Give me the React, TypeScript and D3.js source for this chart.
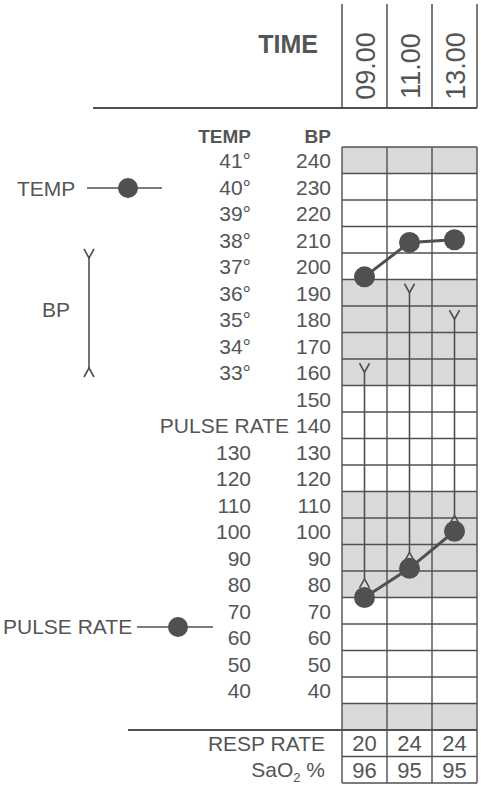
import React from 'react';
import * as d3 from 'd3';

// chart content
const times = ['09.00', '11.00', '13.00'];
const bpTicks = [240, 230, 220, 210, 200, 190, 180, 170, 160, 150, 140, 130, 120, 110, 100, 90, 80, 70, 60, 50, 40];
const tempTicks = [41, 40, 39, 38, 37, 36, 35, 34, 33];
const pulseTicks = [130, 120, 110, 100, 90, 80, 70, 60, 50, 40];
const shadedBands = [[240, 240], [190, 160], [110, 80], [30, 30]];

const tempValues = [36.6, 37.9, 38.0];
const bpSystolic = [160, 190, 180];
const bpDiastolic = [82, 92, 106];
const pulseValues = [75, 86, 100];
const respRate = [20, 24, 24];
const sao2 = [96, 95, 95];

const INK = '#505050';
const TEXT = '#555';
const SHADE = '#d9d9d9';
const FONT = '"Liberation Sans", Arial, Helvetica, sans-serif';

const y = d3.scaleLinear().domain([245, 25]).range([147, 730]);
const tempY = d3.scaleLinear().domain([41, 33]).range([y(240), y(160)]);
const x = d3.scaleBand<string>().domain(times).range([342, 477]);
const rowH = y(230) - y(240);
const cx = (t: string) => (x(t) as number) + x.bandwidth() / 2;

const respTop = y(25);
const respMid = respTop + rowH;
const respBottom = respMid + rowH;

const line = d3.line<[number, number]>().x(d => d[0]).y(d => d[1]);

function yMarker(px: number, py: number) {
  return `M${px - 5},${py - 9}L${px},${py}L${px + 5},${py - 9}`;
}
function caretMarker(px: number, py: number) {
  return `M${px - 5},${py + 9}L${px},${py}L${px + 5},${py + 9}`;
}

export default function App() {
  const [x0, x1] = x.range();
  const rowLines = d3.range(0, 23).map(i => 147 + i * rowH);
  const colLines = [...times.map(t => x(t) as number), x1];

  const tempPts: [number, number][] = times.map((t, i) => [cx(t), tempY(tempValues[i])]);
  const pulsePts: [number, number][] = times.map((t, i) => [cx(t), y(pulseValues[i])]);

  return (
    <svg width={481} height={788} style={{ position: 'absolute', left: 0, top: 0, background: '#fff' }}
      fontFamily={FONT}>
      {/* header */}
      <text x={318} y={53} textAnchor="end" fontSize={25} fontWeight="bold" fill={TEXT}>TIME</text>
      {colLines.map((cxl, i) => (
        <line key={'hv' + i} x1={cxl} x2={cxl} y1={4} y2={108} stroke={INK} strokeWidth={1.5} />
      ))}
      <line x1={93} x2={x1} y1={108} y2={108} stroke={INK} strokeWidth={2} />
      {times.map(t => (
        <text key={t} transform={`translate(${cx(t) + 10},66) rotate(-90)`} textAnchor="middle"
          fontSize={27} fill={TEXT}>{t}</text>
      ))}

      {/* shaded bands */}
      {shadedBands.map(([hi, lo], i) => (
        <rect key={'sb' + i} x={x0} width={x1 - x0} y={y(hi + 5)} height={y(lo - 5) - y(hi + 5)} fill={SHADE} />
      ))}

      {/* grid */}
      {rowLines.map((ry, i) => (
        <line key={'r' + i} x1={x0} x2={x1} y1={ry} y2={ry} stroke={INK} strokeWidth={1.4} />
      ))}
      {colLines.map((cxl, i) => (
        <line key={'c' + i} x1={cxl} x2={cxl} y1={147} y2={respBottom} stroke={INK} strokeWidth={1.4} />
      ))}
      <line x1={128} x2={x1} y1={respTop} y2={respTop} stroke={INK} strokeWidth={2.2} />
      <line x1={x0} x2={x1} y1={respMid} y2={respMid} stroke={INK} strokeWidth={1.4} />
      <line x1={x0} x2={x1} y1={respBottom} y2={respBottom} stroke={INK} strokeWidth={1.4} />

      {/* axis labels */}
      <text x={251} y={143} textAnchor="end" fontSize={19} fontWeight="bold" fill={TEXT}>TEMP</text>
      <text x={331} y={143} textAnchor="end" fontSize={19} fontWeight="bold" fill={TEXT}>BP</text>
      {bpTicks.map(v => (
        <text key={'bp' + v} x={331} y={y(v) + 8} textAnchor="end" fontSize={21} fill={TEXT}>{v}</text>
      ))}
      {tempTicks.map(v => (
        <text key={'t' + v} x={251} y={tempY(v) + 8} textAnchor="end" fontSize={21} fill={TEXT}>{v}°</text>
      ))}
      <text x={289} y={y(140) + 8} textAnchor="end" fontSize={21} fill={TEXT}>PULSE RATE</text>
      {pulseTicks.map(v => (
        <text key={'p' + v} x={251} y={y(v) + 8} textAnchor="end" fontSize={21} fill={TEXT}>{v}</text>
      ))}

      {/* BP bars */}
      {times.map((t, i) => (
        <g key={'bpm' + t} fill="none" stroke={INK} strokeWidth={1.6}>
          <line x1={cx(t)} x2={cx(t)} y1={y(bpSystolic[i])} y2={y(bpDiastolic[i])} />
          <path d={yMarker(cx(t), y(bpSystolic[i]))} />
          <path d={caretMarker(cx(t), y(bpDiastolic[i]))} />
        </g>
      ))}

      {/* temperature */}
      <path d={line(tempPts) as string} fill="none" stroke={INK} strokeWidth={3} />
      {tempPts.map((p, i) => <circle key={'tp' + i} cx={p[0]} cy={p[1]} r={10.5} fill={INK} />)}

      {/* pulse */}
      <path d={line(pulsePts) as string} fill="none" stroke={INK} strokeWidth={3} />
      {pulsePts.map((p, i) => <circle key={'pp' + i} cx={p[0]} cy={p[1]} r={10.5} fill={INK} />)}

      {/* resp + SaO2 */}
      <text x={325} y={respTop + 21} textAnchor="end" fontSize={21} fill={TEXT}>RESP RATE</text>
      <text x={325} y={respMid + 20} textAnchor="end" fontSize={21} fill={TEXT}>
        SaO<tspan fontSize={13} dy={5}>2</tspan><tspan dy={-5}> %</tspan>
      </text>
      {times.map((t, i) => (
        <g key={'rs' + t}>
          <text x={cx(t)} y={respTop + 21} textAnchor="middle" fontSize={22} fill={TEXT}>{respRate[i]}</text>
          <text x={cx(t)} y={respMid + 21} textAnchor="middle" fontSize={22} fill={TEXT}>{sao2[i]}</text>
        </g>
      ))}

      {/* legend */}
      <text x={17} y={196} fontSize={21} fill={TEXT}>TEMP</text>
      <line x1={87} x2={162} y1={188} y2={188} stroke={INK} strokeWidth={1.6} />
      <circle cx={128} cy={188} r={10} fill={INK} />

      <text x={42} y={317} fontSize={21} fill={TEXT}>BP</text>
      <g fill="none" stroke={INK} strokeWidth={1.6}>
        <line x1={89} x2={89} y1={258} y2={368} />
        <path d={yMarker(89, 258)} />
        <path d={caretMarker(89, 368)} />
      </g>

      <text x={3} y={634} fontSize={21} fill={TEXT}>PULSE RATE</text>
      <line x1={137} x2={213} y1={627} y2={627} stroke={INK} strokeWidth={1.6} />
      <circle cx={178} cy={627} r={10} fill={INK} />
    </svg>
  );
}
